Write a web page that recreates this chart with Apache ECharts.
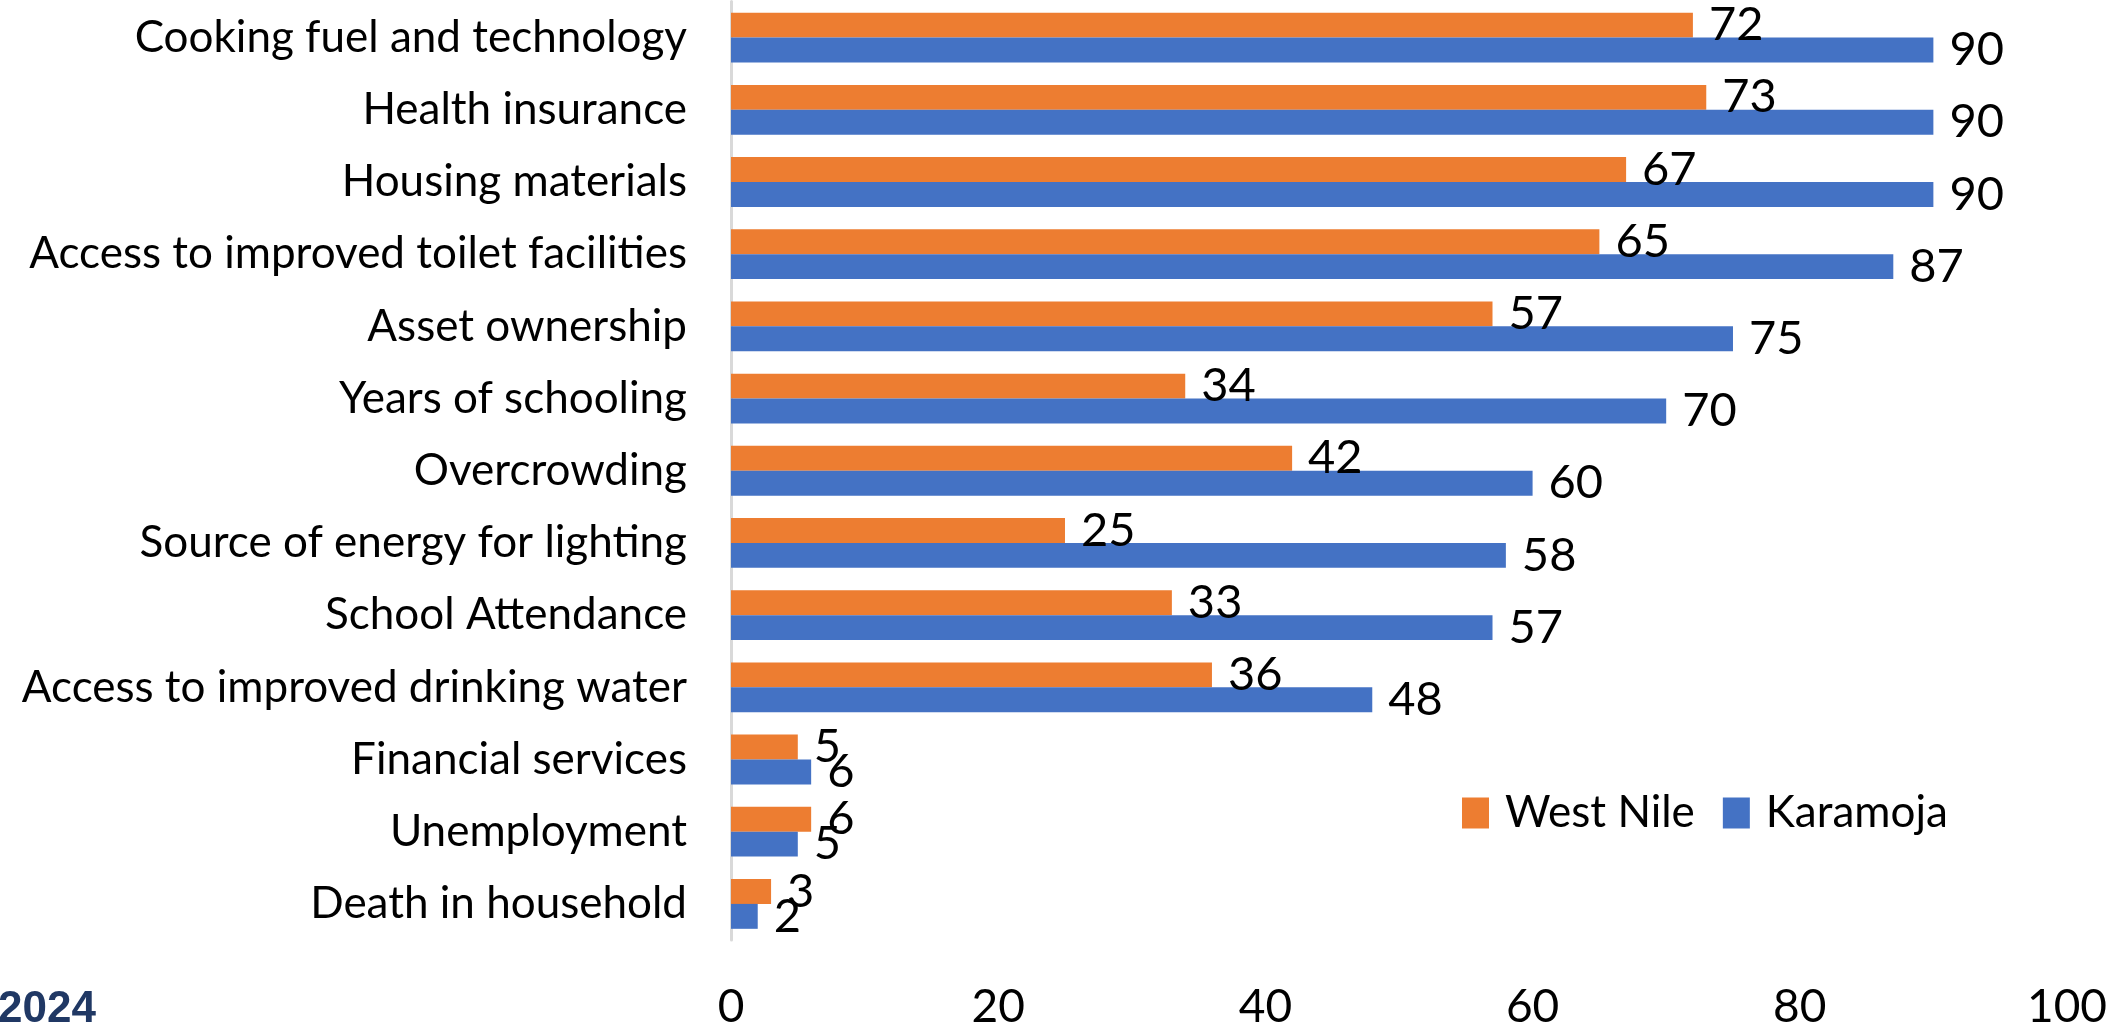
<!DOCTYPE html>
<html>
<head>
<meta charset="utf-8">
<script src="https://cdn.jsdelivr.net/npm/echarts@6/dist/echarts.min.js"></script>
<style>
html,body{margin:0;padding:0;background:#fff;}
#chart{width:2110px;height:1030px;}
</style>
</head>
<body>
<div id="chart"></div>
<script>
const categories = [
  "Cooking fuel and technology",
  "Health insurance",
  "Housing materials",
  "Access to improved toilet facilities",
  "Asset ownership",
  "Years of schooling",
  "Overcrowding",
  "Source of energy for lighting",
  "School Attendance",
  "Access to improved drinking water",
  "Financial services",
  "Unemployment",
  "Death in household"
];
const westNile = [72, 73, 67, 65, 57, 34, 42, 25, 33, 36, 5, 6, 3];
const karamoja = [90, 90, 90, 87, 75, 70, 60, 58, 57, 48, 6, 5, 2];
const xTicks = [0, 20, 40, 60, 80, 100];
const yearText = "2024";

const FONT = "Lato";
const chart = echarts.init(document.getElementById('chart'));
const labelStyle = {
  show: true,
  position: 'right',
  distance: 16,
  color: '#000',
  fontFamily: FONT,
  fontSize: 47
};
chart.setOption({
  animation: false,
  textStyle: { fontFamily: FONT },
  grid: { left: 731, right: 43, top: 1.5, height: 945, containLabel: false },
  legend: {
    left: 1457,
    top: 786,
    itemWidth: 27,
    itemHeight: 31,
    itemGap: 28,
    icon: 'rect',
    textStyle: { fontFamily: FONT, fontSize: 44, color: '#000', padding: [0, 0, 0, 11] },
    data: ['West Nile', 'Karamoja']
  },
  xAxis: {
    type: 'value',
    min: xTicks[0],
    max: xTicks[xTicks.length - 1],
    interval: xTicks[1] - xTicks[0],
    axisLine: { show: false },
    axisTick: { show: false },
    splitLine: { show: false },
    axisLabel: { color: '#000', fontFamily: FONT, fontSize: 46, margin: 44 }
  },
  yAxis: {
    type: 'category',
    inverse: true,
    data: categories,
    axisLine: { show: true, lineStyle: { color: '#d9d9d9', width: 3 } },
    axisTick: { show: false },
    axisLabel: { color: '#000', fontFamily: FONT, fontSize: 44, margin: 44 }
  },
  series: [
    {
      name: 'West Nile',
      type: 'bar',
      data: westNile,
      itemStyle: { color: '#ED7D31' },
      barGap: '0%',
      barCategoryGap: '31%',
      label: labelStyle
    },
    {
      name: 'Karamoja',
      type: 'bar',
      data: karamoja,
      itemStyle: { color: '#4472C4' },
      barGap: '0%',
      barCategoryGap: '31%',
      label: labelStyle
    }
  ],
  graphic: [{
    type: 'text',
    left: -2,
    top: 988,
    style: { text: yearText, font: 'bold 44px "Liberation Sans", Arial, sans-serif', fill: '#203864' }
  }]
});
</script>
</body>
</html>
